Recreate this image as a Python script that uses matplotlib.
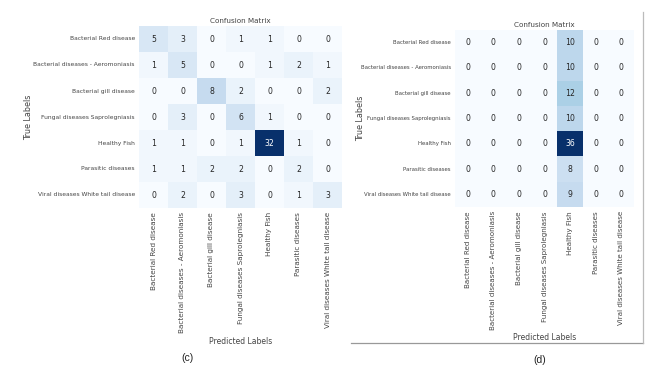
import numpy as np
import matplotlib
matplotlib.use("Agg")
import matplotlib.pyplot as plt
from matplotlib.lines import Line2D
import seaborn as sns

labels = ["Bacterial Red disease", "Bacterial diseases - Aeromoniasis",
          "Bacterial gill disease", "Fungal diseases Saprolegniasis",
          "Healthy Fish", "Parasitic diseases", "Viral diseases White tail disease"]

cm_c = [[5, 3, 0, 1, 1, 0, 0],
        [1, 5, 0, 0, 1, 2, 1],
        [0, 0, 8, 2, 0, 0, 2],
        [0, 3, 0, 6, 1, 0, 0],
        [1, 1, 0, 1, 32, 1, 0],
        [1, 1, 2, 2, 0, 2, 0],
        [0, 2, 0, 3, 0, 1, 3]]

cm_d = [[0, 0, 0, 0, 10, 0, 0],
        [0, 0, 0, 0, 10, 0, 0],
        [0, 0, 0, 0, 12, 0, 0],
        [0, 0, 0, 0, 10, 0, 0],
        [0, 0, 0, 0, 36, 0, 0],
        [0, 0, 0, 0, 8, 0, 0],
        [0, 0, 0, 0, 9, 0, 0]]

W, H = 656, 366
fig = plt.figure(figsize=(W / 100, H / 100), dpi=100)
fig.patch.set_facecolor("white")

def rect(x0, y0, x1, y1):
    return [x0 / W, 1 - y1 / H, (x1 - x0) / W, (y1 - y0) / H]

txt = "#444444"

def draw(ax, cm, ylab_fs, xlab_fs, ylpad, xlpad):
    sns.heatmap(np.array(cm), annot=True, fmt="d", cmap="Blues", cbar=False,
                ax=ax, xticklabels=labels, yticklabels=labels,
                annot_kws={"fontsize": 5.6})
    ax.tick_params(length=0, pad=3)
    ax.set_yticklabels(labels, rotation=0, fontsize=ylab_fs, color=txt)
    ax.set_xticklabels(labels, rotation=90, fontsize=xlab_fs, color=txt)
    ax.set_title("Confusion Matrix", fontsize=5.2, color=txt, pad=2)
    ax.set_xlabel("Predicted Labels", fontsize=5.5, color=txt, labelpad=xlpad)
    ax.set_ylabel("True Labels", fontsize=5.8, color=txt, labelpad=ylpad)

ax1 = fig.add_axes(rect(139, 26, 342, 208))
draw(ax1, cm_c, 4.3, 5.25, 0, 3)

ax2 = fig.add_axes(rect(455, 30, 634, 207))
draw(ax2, cm_d, 3.9, 5.1, -3, 2)

fig.text(188 / W, 1 - 358 / H, "(c)", ha="center", va="center",
         fontsize=7.5, family="Liberation Sans", color="#222222")
fig.text(540 / W, 1 - 360 / H, "(d)", ha="center", va="center",
         fontsize=7.5, family="Liberation Sans", color="#222222")

fig.add_artist(Line2D([351 / W, 643 / W], [1 - 343 / H, 1 - 343 / H],
                      color="#999999", lw=0.9, transform=fig.transFigure))
fig.add_artist(Line2D([643 / W, 643 / W], [1 - 12 / H, 1 - 343 / H],
                      color="#bbbbbb", lw=0.9, transform=fig.transFigure))

fig.savefig("out.png", dpi=100)
